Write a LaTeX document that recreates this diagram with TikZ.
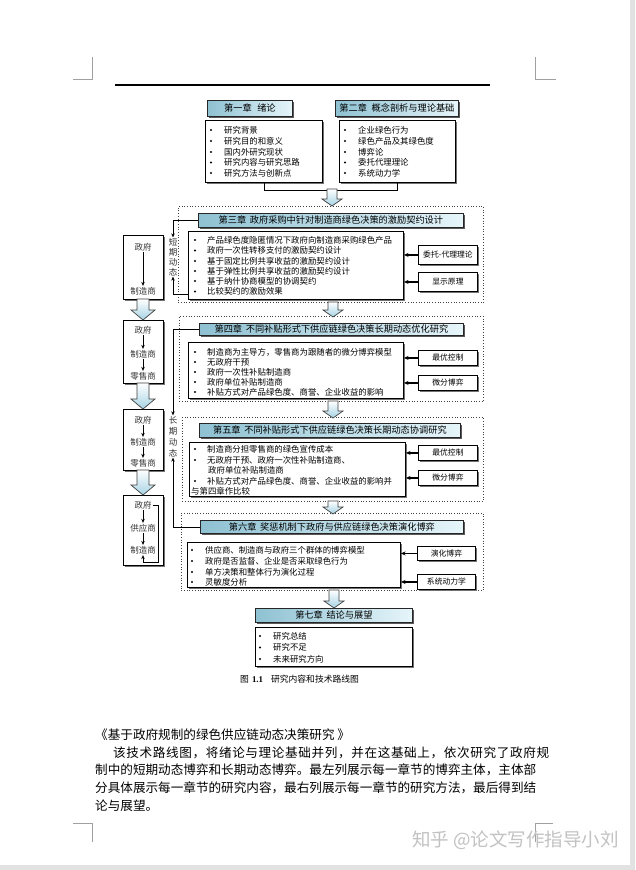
\documentclass[tikz,border=0pt]{standalone}
\usepackage{fontspec}
\setmainfont{Noto Sans CJK SC}
\newfontfamily\latinserif{Liberation Serif}
\usetikzlibrary{arrows.meta,calc,shadows}
\definecolor{tbA}{HTML}{8EC1D2}
\definecolor{tbB}{HTML}{CBE8F1}
\definecolor{tbC}{HTML}{E6F5FA}
\definecolor{arrB}{HTML}{A6D3E4}
\definecolor{markgray}{HTML}{A0A0A0}
\definecolor{wmgray}{HTML}{C2C2C2}
\definecolor{edgegray}{HTML}{E2E2E2}
\newcommand\rbox[7]{\node[#1, minimum width={(#4)-(#2)}, minimum height={(#5)-(#3)}, anchor=north west] (#6) at (#2,#3) {#7};}
\newcommand\itm[5]{\node[bul] (#1b) at (#2,#4) {};\node[item] (#1) at (#3,#4) {#5};}
\newcommand\dnarrow[6]{\draw[blockarrow] ({#1-#4},#2) -- ({#1+#4},#2) -- ({#1+#4},{#3-#6}) -- ({#1+#5},{#3-#6}) -- (#1,#3) -- ({#1-#5},{#3-#6}) -- ({#1-#4},{#3-#6}) -- cycle;}
\tikzset{
  titlebox/.style={draw=black!85, line width=0.8pt, left color=tbA, middle color=tbB, right color=tbC, inner sep=0pt,
    font=\fontsize{9.2}{10}\selectfont, drop shadow={shadow xshift=1.3pt, shadow yshift=-1.3pt, fill=black!65, opacity=1}},
  contentbox/.style={draw=black, line width=1pt, fill=white, inner sep=0pt,
    drop shadow={shadow xshift=1.3pt, shadow yshift=-1.3pt, fill=black!55, opacity=1}},
  methodbox/.style={draw=black, line width=0.9pt, fill=white, inner sep=0pt, font=\fontsize{7.8}{9}\selectfont,
    drop shadow={shadow xshift=1.2pt, shadow yshift=-1.2pt, fill=black!55, opacity=1}},
  leftbox/.style={draw=black, line width=1pt, fill=white, inner sep=0pt,
    drop shadow={shadow xshift=1.3pt, shadow yshift=-1.3pt, fill=black!55, opacity=1}},
  dotbox/.style={draw=black!75, dotted, line width=0.7pt},
  item/.style={anchor=west, inner sep=0pt, font=\fontsize{8.4}{10}\selectfont},
  bul/.style={circle, fill=black, inner sep=0pt, minimum size=2.4pt},
  lefttxt/.style={inner sep=1pt, font=\fontsize{8.5}{10}\selectfont, text=black!80},
  vchar/.style={inner sep=0.6pt, font=\fontsize{8.5}{10}\selectfont, text=black!80},
  sarrow/.style={draw=black, line width=0.6pt, -{Stealth[length=4pt,width=3.5pt]}},
  marrow/.style={draw=black, line width=1.1pt, -{Stealth[length=4.5pt,width=4pt]}},
  plainline/.style={draw=black, line width=1pt},
  blockarrow/.style={draw=black!75, line width=0.7pt, top color=white, bottom color=arrB},
  cornermark/.style={draw=markgray, line width=0.5pt},
  bodytxt/.style={anchor=west, inner sep=0pt, font=\fontsize{12.6}{14}\selectfont}
}
\begin{document}
\begin{tikzpicture}[x=1pt,y=-1pt]
\useasboundingbox (0,0) rectangle (635,870);
\fill[white] (0,0) rectangle (635,870);
\fill[edgegray] (630,0) rectangle (635,870);
\fill[edgegray] (0,865) rectangle (635,870);

% page corner marks
\draw[cornermark] (92,57) -- (92,79) -- (73,79);
\draw[cornermark] (535,57) -- (535,79) -- (556,79);
\draw[cornermark] (92,842) -- (92,823) -- (73,823);
\draw[cornermark] (535,842) -- (535,823) -- (553,823);
% header rule
\draw[black, line width=1.6pt] (115,85) -- (490,85);

% ---------- chapters 1 and 2 ----------
\rbox{titlebox}{207}{100}{292}{116}{t1}{第一章\hspace{0.6em}绪论}
\rbox{titlebox}{335}{100}{458}{116}{t2}{第二章\hspace{0.5em}概念剖析与理论基础}
\rbox{contentbox}{205}{120}{322}{182}{c1}{}
\rbox{contentbox}{339}{120}{455}{182}{c2}{}
\itm{c1i1}{211}{224}{130}{研究背景}
\itm{c1i2}{211}{224}{141}{研究目的和意义}
\itm{c1i3}{211}{224}{152}{国内外研究现状}
\itm{c1i4}{211}{224}{162.5}{研究内容与研究思路}
\itm{c1i5}{211}{224}{173}{研究方法与创新点}
\itm{c2i1}{345}{358}{130}{企业绿色行为}
\itm{c2i2}{345}{358}{141}{绿色产品及其绿色度}
\itm{c2i3}{345}{358}{152}{博弈论}
\itm{c2i4}{345}{358}{162.5}{委托代理理论}
\itm{c2i5}{345}{358}{173}{系统动力学}
\draw[plainline] (c1.south) -- ++(0,7) -| (c2.south);

% ---------- chapter 3 (short-term) ----------
\rbox{dotbox}{178}{206}{483}{302}{d3}{}
\rbox{titlebox}{198}{213}{463}{227}{t3}{第三章\hspace{0.4em}政府采购中针对制造商绿色决策的激励契约设计}
\rbox{contentbox}{188}{231}{403}{299}{c3}{}
\itm{c3i1}{195}{207}{240}{产品绿色度隐匿情况下政府向制造商采购绿色产品}
\itm{c3i2}{195}{207}{250.5}{政府一次性转移支付的激励契约设计}
\itm{c3i3}{195}{207}{261}{基于固定比例共享收益的激励契约设计}
\itm{c3i4}{195}{207}{271}{基于弹性比例共享收益的激励契约设计}
\itm{c3i5}{195}{207}{281}{基于纳什协商模型的协调契约}
\itm{c3i6}{195}{207}{291.5}{比较契约的激励效果}
\rbox{methodbox}{418}{245}{477}{264}{m31}{委托-代理理论}
\rbox{methodbox}{418}{272}{477}{291}{m32}{显示原理}
\draw[marrow] (m31.west) -- (m31.west -| c3.east);
\draw[marrow] (m32.west) -- (m32.west -| c3.east);
\node[vchar] (s1) at (173,242) {短};
\node[vchar] (s2) at (173,252) {期};
\node[vchar] (s3) at (173,262) {动};
\node[vchar] (s4) at (173,272) {态};
\draw[sarrow] (t3.west) -| (s1.north);
\coordinate (s3back) at (188,294);
\draw[sarrow] (s3back) -| (s4.south);

% ---------- chapter 4 ----------
\rbox{dotbox}{179}{316}{483}{401}{d4}{}
\rbox{titlebox}{199}{323}{463}{335}{t4}{第四章\hspace{0.4em}不同补贴形式下供应链绿色决策长期动态优化研究}
\rbox{contentbox}{188}{342}{403}{398}{c4}{}
\itm{c4i1}{195}{207}{352}{制造商为主导方，零售商为跟随者的微分博弈模型}
\itm{c4i2}{195}{207}{362}{无政府干预}
\itm{c4i3}{195}{207}{372}{政府一次性补贴制造商}
\itm{c4i4}{195}{207}{382}{政府单位补贴制造商}
\itm{c4i5}{195}{207}{392}{补贴方式对产品绿色度、商誉、企业收益的影响}
\rbox{methodbox}{418}{350}{477}{365}{m41}{最优控制}
\rbox{methodbox}{418}{375}{477}{390}{m42}{微分博弈}
\draw[marrow] (m41.west) -- (m41.west -| c4.east);
\draw[marrow] (m42.west) -- (m42.west -| c4.east);

% ---------- chapter 5 ----------
\rbox{dotbox}{182}{417}{483}{501}{d5}{}
\rbox{titlebox}{199}{423}{460}{437}{t5}{第五章\hspace{0.4em}不同补贴形式下供应链绿色决策长期动态协调研究}
\rbox{contentbox}{189}{442}{405}{496}{c5}{}
\itm{c5i1}{195}{207}{449}{制造商分担零售商的绿色宣传成本}
\itm{c5i2}{195}{207}{460}{无政府干预、政府一次性补贴制造商、}
\node[item] (c5i3) at (208,470) {政府单位补贴制造商};
\itm{c5i4}{195}{207}{481}{补贴方式对产品绿色度、商誉、企业收益的影响并}
\node[item] (c5i5) at (191,491) {与第四章作比较};
\rbox{methodbox}{418}{445}{477}{460}{m51}{最优控制}
\rbox{methodbox}{418}{470}{477}{485}{m52}{微分博弈}
\draw[marrow] (m51.west) -- (m51.west -| c5.east);
\draw[marrow] (m52.west) -- (m52.west -| c5.east);

% ---------- chapter 6 ----------
\rbox{dotbox}{181}{513}{483}{590}{d6}{}
\rbox{titlebox}{200}{520}{463}{533}{t6}{第六章\hspace{0.4em}奖惩机制下政府与供应链绿色决策演化博弈}
\rbox{contentbox}{187}{542}{400}{587}{c6}{}
\itm{c6i1}{192}{205}{550}{供应商、制造商与政府三个群体的博弈模型}
\itm{c6i2}{192}{205}{561}{政府是否监督、企业是否采取绿色行为}
\itm{c6i3}{192}{205}{572}{单方决策和整体行为演化过程}
\itm{c6i4}{192}{205}{582}{灵敏度分析}
\rbox{methodbox}{417}{546}{475}{560}{m61}{演化博弈}
\rbox{methodbox}{417}{574}{475}{589}{m62}{系统动力学}
\draw[marrow] (m61.west) -- (m61.west -| c6.east);
\draw[marrow] (m62.west) -- (m62.west -| c6.east);

% long-term label and connectors
\node[vchar] (l1) at (173,420) {长};
\node[vchar] (l2) at (173,431) {期};
\node[vchar] (l3) at (173,442) {动};
\node[vchar] (l4) at (173,453) {态};
\draw[sarrow] (t4.west) -| (l1.north);
\draw[sarrow] (t6.west) -| (l4.south);

% ---------- chapter 7 ----------
\rbox{titlebox}{255}{608}{412}{622}{t7}{第七章\hspace{0.4em}结论与展望}
\rbox{contentbox}{255}{627}{412}{666}{c7}{}
\itm{c7i1}{260}{273}{636}{研究总结}
\itm{c7i2}{260}{273}{647.5}{研究不足}
\itm{c7i3}{260}{273}{659}{未来研究方向}
\node[anchor=west, inner sep=0pt, font=\fontsize{8.8}{10}\selectfont] (cap) at (240,679)
  {图\hspace{3pt}{\latinserif\bfseries 1.1}\hspace{8pt}研究内容和技术路线图};

% main column block arrows
\dnarrow{332}{189}{206}{5}{10}{7}
\dnarrow{333}{302}{317}{5}{10}{7}
\dnarrow{333}{401}{418}{5}{10}{7}
\dnarrow{333}{501}{514}{5}{10}{7}
\dnarrow{334}{590}{608}{5}{10}{7}

% ---------- left column ----------
\rbox{leftbox}{123}{235}{163}{299}{la}{}
\node[lefttxt] (la1) at (143,247) {政府};
\node[lefttxt] (la2) at (143,291) {制造商};
\draw[sarrow] (la1) -- (la2);
\rbox{leftbox}{123}{320}{163}{383}{lb}{}
\node[lefttxt] (lb1) at (143,330) {政府};
\node[lefttxt] (lb2) at (143,354) {制造商};
\node[lefttxt] (lb3) at (143,376) {零售商};
\draw[sarrow] (lb1) -- (lb2);
\draw[sarrow] (lb2) -- (lb3);
\rbox{leftbox}{123}{409}{163}{470}{lc}{}
\node[lefttxt] (lc1) at (143,420) {政府};
\node[lefttxt] (lc2) at (143,442) {制造商};
\node[lefttxt] (lc3) at (143,463) {零售商};
\draw[sarrow] (lc1) -- (lc2);
\draw[sarrow] (lc2) -- (lc3);
\rbox{leftbox}{123}{495}{163}{565}{ld}{}
\node[lefttxt] (ld1) at (143,505) {政府};
\node[lefttxt] (ld2) at (143,528) {供应商};
\node[lefttxt] (ld3) at (143,550) {制造商};
\draw[sarrow] (ld1) -- (ld2);
\draw[sarrow] (ld2) -- (ld3);
\draw[sarrow] (ld1.east) -- ++(6,0) -- ++(0,57) -| (ld3.south);
\dnarrow{143}{299}{320}{6}{12}{10}
\dnarrow{143}{383}{409}{6}{12}{10}
\dnarrow{143}{470}{495}{6}{12}{10}

% ---------- body text ----------
\node[bodytxt] (p1) at (95,735) {《基于政府规制的绿色供应链动态决策研究 》};
\node[bodytxt] (p2) at (113,753) {\addfontfeature{LetterSpace=5}该技术路线图，将绪论与理论基础并列，并在这基础上，依次研究了政府规};
\node[bodytxt] (p3) at (95,770) {制中的短期动态博弈和长期动态博弈。最左列展示每一章节的博弈主体，主体部};
\node[bodytxt] (p4) at (95,788) {分具体展示每一章节的研究内容，最右列展示每一章节的研究方法，最后得到结};
\node[bodytxt] (p5) at (95,806) {论与展望。};
\node[anchor=west, inner sep=0pt, font=\fontsize{18.5}{20}\selectfont, text=wmgray] (wm) at (412,840) {知乎 @论文写作指导小刘};
\end{tikzpicture}
\end{document}
